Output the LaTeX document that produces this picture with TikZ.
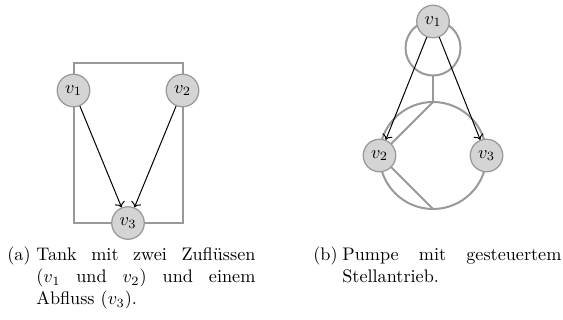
\documentclass[tikz,border=0pt]{standalone}
\usepackage{amsmath}
\usepackage{xcolor}
\usepackage{tikz}
\usetikzlibrary{
	arrows.meta,
	backgrounds,
	positioning
}
\definecolor{LineGray}{RGB}{153,153,153}
\definecolor{NodeGray}{RGB}{212,212,212}
\tikzset{
	var/.style={circle, draw=LineGray, fill=NodeGray, line width=0.7pt, minimum size=17.9pt, inner sep=0pt},
	plant/.style={LineGray, line width=1.1pt},
	flow/.style={->, black, line width=0.55pt},
	captlabel/.style={inner sep=0pt, anchor=north west, font=\fontsize{10}{12}\selectfont},
	capt/.style={captlabel, text width=120.5pt, align=justify}
}

\begin{document}
\begin{tikzpicture}[x=0.55pt, y=-0.55pt]
		\useasboundingbox (0,0) rectangle (563,320);
		
		% (a) Tank mit zwei Zufluessen
		\node[var] (a1) at (73.5,90.5) {$v_1$};
		\node[var] (a2) at (182.5,90.5) {$v_2$};
		\node[var] (a3) at (128,223) {$v_3$};
		\begin{scope}[on background layer]
			\draw[plant] (a1.center) |- (73.5,63) -| (a2.center) |- (a3.center) -| cycle;
		\end{scope}
		\draw[flow] (a1) -- (a3);
		\draw[flow] (a2) -- (a3);
		
		% (b) Pumpe mit Stellantrieb
		\node[var] (b1) at (433,21.5) {$v_1$};
		\node[var] (b2) at (379.5,155.5) {$v_2$};
		\node[var] (b3) at (486.5,155.5) {$v_3$};
		\coordinate (drive) at (433,48);
		\coordinate (pump) at (433,155.5);
		\coordinate (ptop) at (433,102);
		\coordinate (pbot) at (433,209);
		\begin{scope}[on background layer]
			\draw[plant] (drive) circle[radius=27.5];
			\draw[plant] (pump) circle[radius=53.5];
			\draw[plant] (433,75.5) -- (ptop);
			\draw[plant] (ptop) -- (b2.center) -- (pbot);
		\end{scope}
		\draw[flow] (b1) -- (b2);
		\draw[flow] (b1) -- (b3);
		
		% Unterschriften
		\node[captlabel] (labA) at (7,245) {\strut(a)};
		\node[capt] (capA) at (36,245) {\strut Tank mit zwei Zufl\"ussen\linebreak ($v_1$ und $v_2$) und einem\linebreak Abfluss ($v_3$).};
		\node[captlabel] (labB) at (313,245) {\strut(b)};
		\node[capt] (capB) at (342,245) {\strut Pumpe mit gesteuertem\linebreak Stellantrieb.};
	\end{tikzpicture}
\end{document}
